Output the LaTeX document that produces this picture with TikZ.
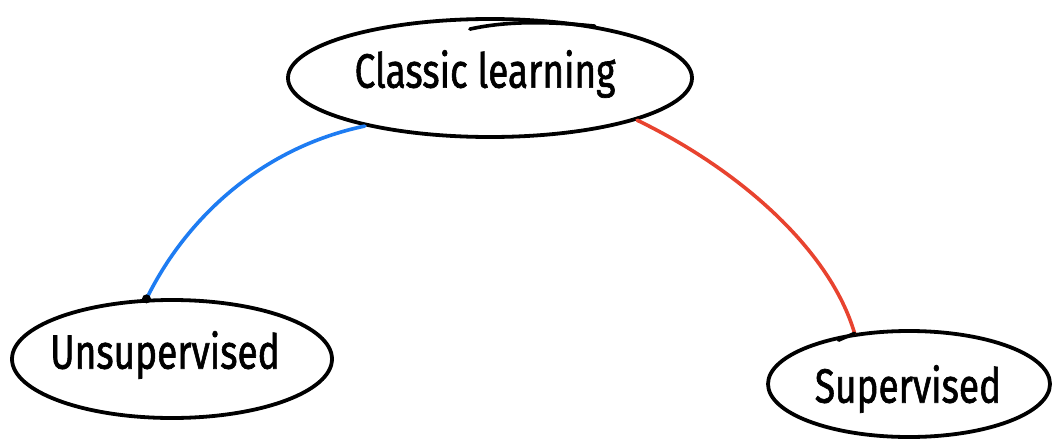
\documentclass[tikz,border=0pt]{standalone}
\usepackage{fontspec}
\setmainfont{Fira Sans}
\newfontfamily\handfont[FakeBold=1.5]{Fira Sans}
\usetikzlibrary{shapes.geometric}
\definecolor{bluel}{HTML}{1E7CF2}
\definecolor{redl}{HTML}{E8432F}
\tikzset{
  bubble/.style={ellipse, draw=black, line width=3.8pt, inner sep=0pt},
  lbl/.style={font=\handfont\fontsize{37}{41}\selectfont},
  link/.style={line width=3.6pt, line cap=round},
}
\begin{document}
\begin{tikzpicture}[x=1pt,y=-1pt]
\useasboundingbox (0,0) rectangle (1052,439);
% ellipses
\node[bubble, minimum width=404pt, minimum height=118pt] (cl) at (490,78) {};
\node[bubble, minimum width=320pt, minimum height=118pt] (un) at (172,359) {};
\node[bubble, minimum width=282pt, minimum height=106pt] (su) at (909,384) {};
% texts
\node[lbl] (clt) at (485,74) {\scalebox{1.0}[1.3]{Classic learning}};
\node[lbl] (unt) at (165,355) {\scalebox{1.0}[1.3]{Unsupervised}};
\node[lbl] (sut) at (908,389) {\scalebox{1.0}[1.3]{Supervised}};
% overshoot stroke on top of Classic
\draw[line width=3.6pt, line cap=round] (cl.92) ++(-18,12) .. controls +(40,-9) and +(-40,-4) .. ++(125,-3);
% connectors
\draw[link, bluel] (cl.201) .. controls (260,148) and (185,220) .. (un.113);
\draw[link, redl] (cl.344) .. controls (740,170) and (830,250) .. (su.137);
\fill (un.113) circle (4.5pt);
\draw[line width=3.4pt, line cap=round] (su.137) -- ++(-16,7);
\end{tikzpicture}
\end{document}
